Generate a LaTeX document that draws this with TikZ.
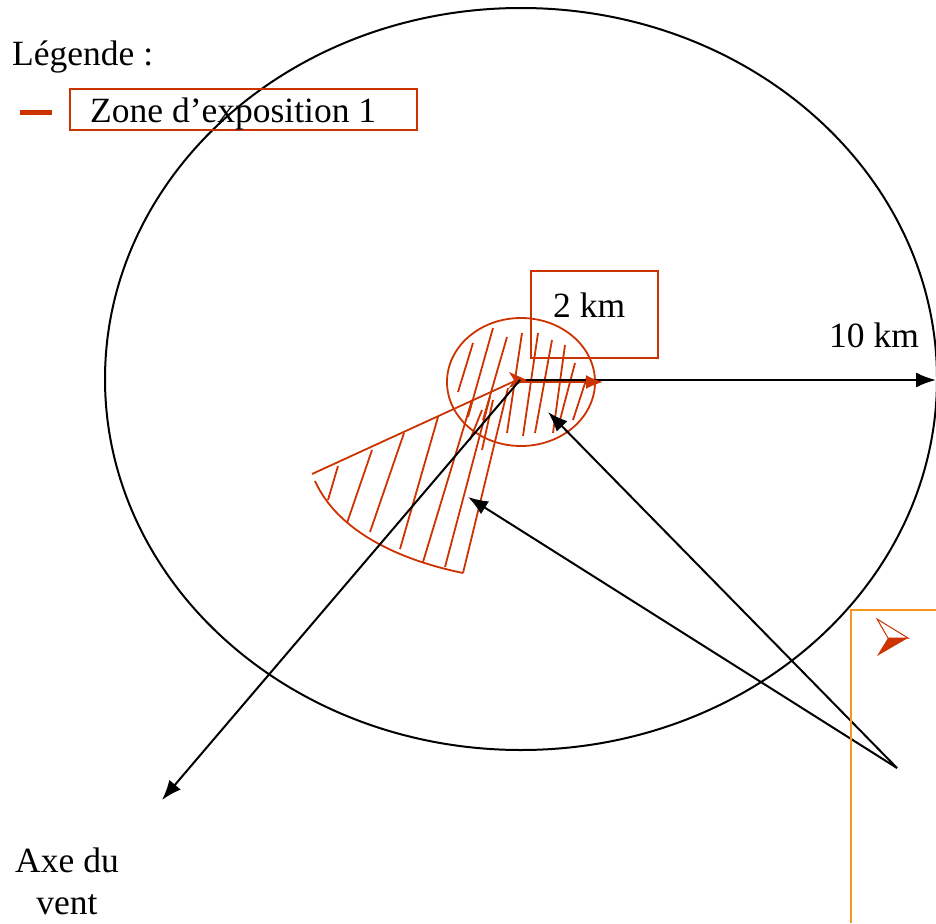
\documentclass[tikz,border=0pt]{standalone}
\usepackage{fontspec}
\setmainfont{Liberation Serif}
\usetikzlibrary{arrows.meta}
\definecolor{zred}{RGB}{204,51,0}
\definecolor{zorange}{RGB}{247,150,30}
\tikzset{
  lbl/.style={font=\fontsize{35.5}{42}\selectfont, inner sep=0pt, anchor=base west},
  blk/.style={draw=black, line width=2pt},
  blkarrow/.style={blk, -{Latex[length=20pt,width=15pt]}},
  redline/.style={draw=zred, line width=1.8pt},
  hatch/.style={draw=zred, line width=1.8pt},
}
\begin{document}
\begin{tikzpicture}[x=1pt,y=-1pt]
\useasboundingbox (0,0) rectangle (936,923);
% big ellipse
\draw[blk] (521,379) ellipse [x radius=416, y radius=371];
% legend
\node[lbl] (leg) at (12,66) {Légende :};
\draw[draw=zred, line width=5pt] (20,113) -- (52,113);
\draw[redline] (70,89) rectangle (417,130);
\node[lbl] (zone) at (90,122) {Zone d’exposition 1};
% coordinates
\coordinate (c) at (520,380);
\coordinate (far) at (936,380);
\coordinate (wind) at (162,800);
\coordinate (src) at (897,768);
\coordinate (t1) at (548,412);
\coordinate (t2) at (468,497);
% small circle
\draw[redline] (521,382) ellipse [x radius=74, y radius=64];
% wedge
\draw[redline] (517,380) -- (312,474);
\draw[redline] (315,481) .. controls (338,532) and (400,560) .. (463,573);
\draw[redline] (463,573) -- (508,388);
% hatching wedge
\foreach \a/\b/\c/\d in {338/466/328/500, 372/450/347/523, 404/433/370/532, 438/417/400/549, 472/400/423/562, 490/397/445/567}
  \draw[hatch] (\a,\b) -- (\c,\d);
% hatching circle
\foreach \a/\b/\c/\d in {473/343/458/392, 493/328/468/417, 507/337/483/420, 522/333/507/433, 538/333/523/436, 552/340/535/433, 565/345/553/433, 575/363/560/420, 587/377/573/420, 493/400/482/450, 482/410/470/440}
  \draw[hatch] (\a,\b) -- (\c,\d);
% 2 km box
\draw[redline] (531,271) rectangle (658,358);
\node[lbl] (two) at (553,317) {2 km};
% 10 km
\node[lbl] (ten) at (829,347) {10 km};
% arrows
\draw[blkarrow] (c) -- (far);
\draw[draw=zred, line width=2.2pt, -{Latex[length=17pt,width=14pt]}] (517,382) -- (603,382);
\fill[zred] (527,380) -- (509,372) -- (514,380) -- (509,388) -- cycle;
\draw[blkarrow] (c) -- (wind);
\draw[blkarrow] (src) -- (t1);
\draw[blkarrow] (src) -- (t2);
% wind label
\node[lbl, anchor=base] (axe) at (67,872) {Axe du};
\node[lbl, anchor=base] (vent) at (67,914) {vent};
% orange frame
\draw[draw=zorange, line width=2pt] (851,923) -- (851,610) -- (936,610);
% navigation icon
\draw[draw=zred, line width=1pt, fill=white] (877,619) -- (908,638) -- (888,638) -- cycle;
\fill[zred] (888,638) -- (908,638) -- (877,656) -- cycle;
\end{tikzpicture}
\end{document}
